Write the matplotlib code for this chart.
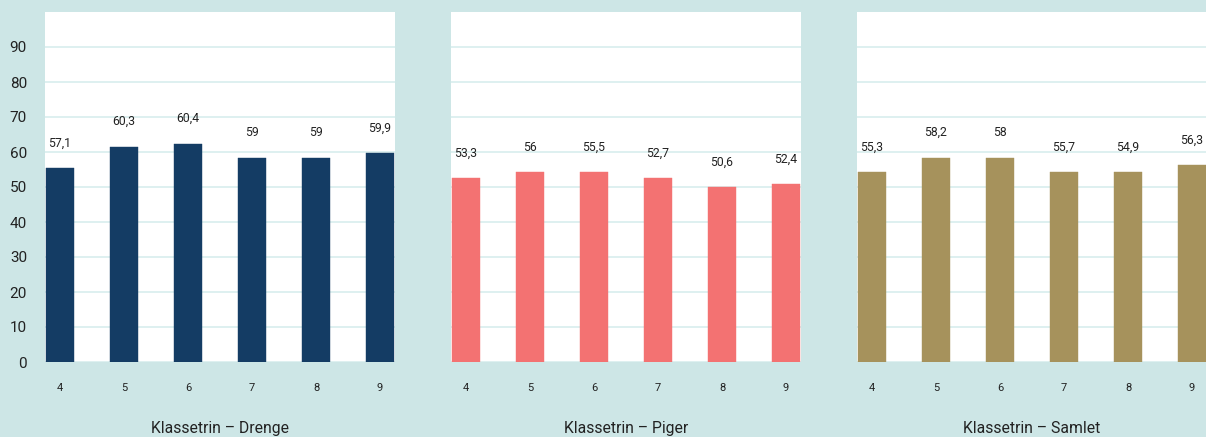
import matplotlib
matplotlib.use("Agg")
import matplotlib.pyplot as plt

grades = ["4", "5", "6", "7", "8", "9"]
titles = ["Klassetrin \u2013 Drenge", "Klassetrin \u2013 Piger", "Klassetrin \u2013 Samlet"]
colors = ["#143c64", "#f37272", "#a6925c"]

# bar heights as drawn
drenge = [55.3, 61.5, 62.3, 58.3, 58.3, 59.6]
piger = [52.5, 54.2, 54.2, 52.5, 49.9, 50.8]
samlet = [54.2, 58.3, 58.3, 54.2, 54.2, 56.2]
# printed value labels
drenge_labels = ["57,1", "60,3", "60,4", "59", "59", "59,9"]
piger_labels = ["53,3", "56", "55,5", "52,7", "50,6", "52,4"]
samlet_labels = ["55,3", "58,2", "58", "55,7", "54,9", "56,3"]

series = [drenge, piger, samlet]
labels = [drenge_labels, piger_labels, samlet_labels]

W, H = 1206, 437
bg = "#cde6e6"
grid_c = "#d8eded"
fig = plt.figure(figsize=(W / 100, H / 100), dpi=100, facecolor=bg)
plt.rcParams['font.family'] = ['Roboto', 'DejaVu Sans']

lefts = [45, 451, 857]
pw = 350
top, bottom = 12, 362
bar_w = 28 / 64
pad = 15 / 64

for i in range(3):
    ax = fig.add_axes([lefts[i] / W, 1 - bottom / H, pw / W, (bottom - top) / H])
    ax.set_facecolor("white")
    x = list(range(len(grades)))
    ax.bar(x, series[i], width=bar_w, color=colors[i], zorder=3,
           edgecolor=colors[i], linewidth=0.3)
    for xi, v, lab in zip(x, series[i], labels[i]):
        ax.annotate(lab, (xi, v), xytext=(0, 13.5), textcoords="offset points",
                    ha="center", va="bottom", fontsize=8.8, color="#222222")
    ax.set_xlim(-pad, len(grades) - 1 + pad)
    ax.set_ylim(0, 100)
    ax.set_yticks(range(0, 100, 10))
    ax.yaxis.grid(True, color=grid_c, linewidth=1.2, zorder=0)
    ax.set_axisbelow(True)
    for s in ax.spines.values():
        s.set_visible(False)
    ax.set_xticks(x)
    ax.set_xticklabels(grades, fontsize=8, color="#222222")
    ax.tick_params(axis="x", length=0, pad=15)
    if i == 0:
        ax.set_yticklabels([str(v) for v in range(0, 100, 10)], fontsize=11, color="#222222")
        ax.tick_params(axis="y", length=0, pad=13)
    else:
        ax.tick_params(axis="y", length=0, labelleft=False)
    ax.set_xlabel(titles[i], fontsize=11.3, color="#222222", labelpad=20)

fig.savefig("out.png", dpi=100, facecolor=bg)
